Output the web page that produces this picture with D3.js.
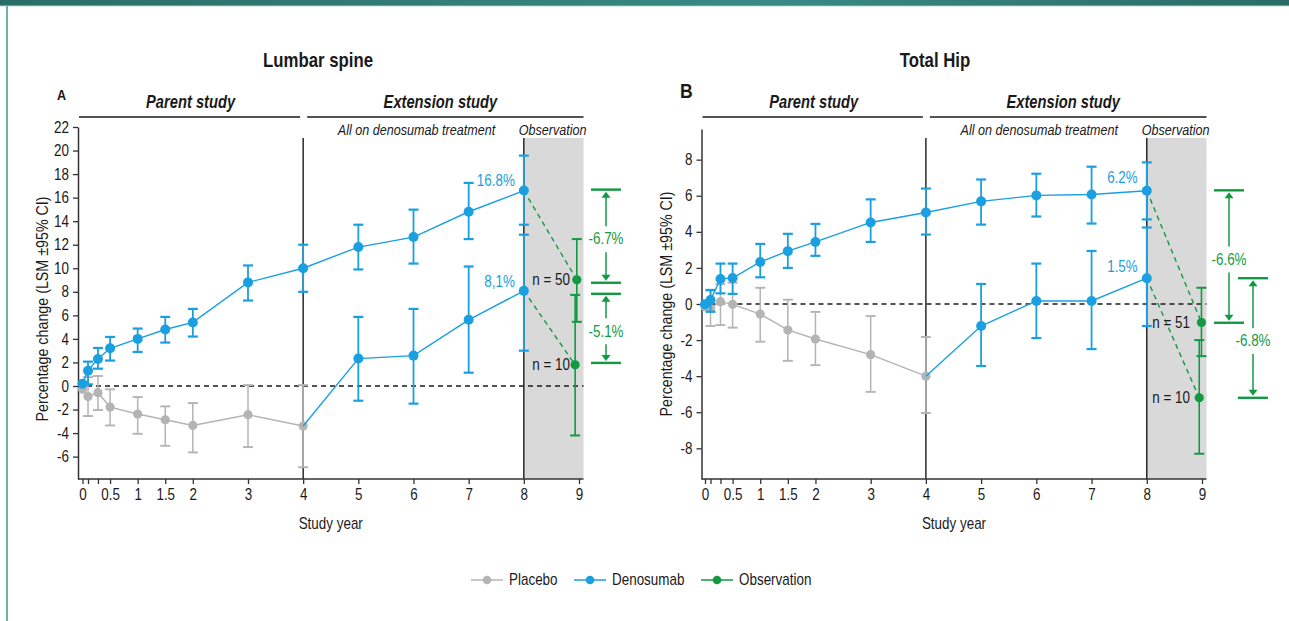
<!DOCTYPE html>
<html><head><meta charset="utf-8">
<script src="https://cdn.jsdelivr.net/npm/d3@7"></script>
<style>
html,body{margin:0;padding:0;background:#fff;}
text{font-family:'Liberation Sans',Arial,sans-serif;}
</style></head>
<body><svg id="c" width="1289" height="621"></svg>
<script>
// ---------- DATA ----------
const timesParent = [0, 0.1, 0.28, 0.5, 1, 1.5, 2, 3, 4];
const timesExt = [5, 6, 7, 8];
const timesCross = [4, 5, 6, 7, 8];
const xTickValues = [0, 0.1, 0.28, 0.5, 1, 1.5, 2, 3, 4, 5, 6, 7, 8, 9];
const xTickLabels = ["0", "", "", "0.5", "1", "1.5", "2", "3", "4", "5", "6", "7", "8", "9"];

// Panel A: Lumbar spine
const denoA    = [0.2, 1.3, 2.3, 3.2, 4.0, 4.8, 5.4, 8.8, 10.0, 11.8, 12.65, 14.8, 16.6];
const denoA_lo = [0.2, 0.14, 1.47, 2.16, 2.89, 3.69, 4.2, 7.26, 8.0, 9.9, 10.4, 12.48, 13.7];
const denoA_hi = [0.2, 2.07, 3.23, 4.17, 4.88, 5.87, 6.55, 10.24, 12.0, 13.7, 14.98, 17.25, 19.57];
const placA    = [-0.28, -0.9, -0.57, -1.79, -2.38, -2.87, -3.35, -2.44, -3.4];
const placA_lo = [-0.28, -2.55, -2.04, -3.35, -4.06, -5.08, -5.64, -5.19, -6.9];
const placA_hi = [-0.28, 0.75, 0.85, -0.28, -0.94, -1.73, -1.45, 0.08, 0.08];
const crossA    = [-3.4, 2.33, 2.58, 5.62, 8.08];
const crossA_lo = [null, -1.25, -1.5, 1.13, 3.0];
const crossA_hi = [null, 5.87, 6.55, 10.15, 12.85];
const obsA_t  = [8.96, 8.93];
const obsA    = [9.02, 1.8];
const obsA_lo = [5.45, -4.2];
const obsA_hi = [12.48, 7.74];
const obsA_n  = ["n = 50", "n = 10"];
const endLabelsA = ["16.8%", "8,1%"];
const bracketsA_from = [16.68, 7.83];
const bracketsA_to   = [8.77, 1.96];
const bracketsA_lab  = ["-6.7%", "-5.1%"];
const yTicksA = [-6, -4, -2, 0, 2, 4, 6, 8, 10, 12, 14, 16, 18, 20, 22];

// Panel B: Total Hip
const denoB    = [-0.02, 0.22, 1.39, 1.44, 2.33, 2.93, 3.44, 4.52, 5.07, 5.69, 6.02, 6.07, 6.28];
const denoB_lo = [-0.02, -0.43, 0.59, 0.56, 1.48, 2.0, 2.67, 3.44, 3.85, 4.4, 4.85, 4.46, 4.69];
const denoB_hi = [-0.02, 0.78, 2.24, 2.24, 3.33, 3.89, 4.44, 5.8, 6.4, 6.9, 7.22, 7.61, 7.85];
const placB    = [-0.15, -0.25, 0.13, -0.02, -0.56, -1.44, -1.94, -2.81, -4.0];
const placB_lo = [-0.15, -1.22, -1.17, -1.31, -2.09, -3.15, -3.39, -4.87, -6.04];
const placB_hi = [-0.15, 0.74, 1.1, 1.18, 0.9, 0.24, -0.44, -0.67, -1.83];
const crossB    = [-4.0, -1.22, 0.17, 0.17, 1.43];
const crossB_lo = [null, -3.44, -1.89, -2.5, -1.22];
const crossB_hi = [null, 1.11, 2.24, 2.94, 4.24];
const obsB_t  = [8.99, 8.95];
const obsB    = [-1.02, -5.2];
const obsB_lo = [-2.89, -8.3];
const obsB_hi = [0.9, -2.0];
const obsB_n  = ["n = 51", "n = 10"];
const endLabelsB = ["6.2%", "1.5%"];
const bracketsB_from = [6.3, 1.43];
const bracketsB_to   = [-1.04, -5.2];
const bracketsB_lab  = ["-6.6%", "-6.8%"];
const yTicksB = [-8, -6, -4, -2, 0, 2, 4, 6, 8];

const legendLabels = ["Placebo", "Denosumab", "Observation"];

// ---------- STYLE ----------
const BLUE = "#1a9fe0", GRAY = "#b4b4b4", GREEN = "#129a43", SHADE = "#d9d9d9", INK = "#1a1a1a";
const SX = 0.84; // horizontal condensing of text

const svg = d3.select("#c");
const defs = svg.append("defs");
const grad = defs.append("linearGradient").attr("id", "tb").attr("x1", "0").attr("x2", "1");
grad.append("stop").attr("offset", "0").attr("stop-color", "#2a6d66");
grad.append("stop").attr("offset", "0.6").attr("stop-color", "#3a8a85");
grad.append("stop").attr("offset", "1").attr("stop-color", "#2a6b65");
svg.append("rect").attr("x", 0).attr("y", 0).attr("width", 1289).attr("height", 5).attr("fill", "url(#tb)");
svg.append("rect").attr("x", 0).attr("y", 5).attr("width", 1289).attr("height", 1.2).attr("fill", "#5ea59c");
svg.append("rect").attr("x", 6).attr("y", 5).attr("width", 2).attr("height", 616).attr("fill", "#6fb1a8");

function txt(g, x, y, s, o) {
  o = o || {};
  const t = g.append("text")
    .attr("transform", `translate(${x},${y})${o.rotate ? " rotate(" + o.rotate + ")" : ""} scale(${SX},1)`)
    .attr("font-size", o.size || 16)
    .attr("fill", o.fill || INK)
    .attr("text-anchor", o.anchor || "start")
    .text(s);
  if (o.weight) t.attr("font-weight", o.weight);
  if (o.style) t.attr("font-style", o.style);
  if (o.middle) t.attr("dominant-baseline", "middle");
  return t;
}

function panel(cfg) {
  const g = svg.append("g");
  const x = d3.scaleLinear().domain([0, 9]).range(cfg.xRange);
  const y = d3.scaleLinear().domain(cfg.yDomain).range([479, cfg.yTop]);
  const axisY = 479, left = cfg.axisX, grayEnd = x(9) + 4.5, topV = 138;

  g.append("rect").attr("x", x(8)).attr("y", topV).attr("width", grayEnd - x(8)).attr("height", axisY - topV).attr("fill", SHADE);

  g.append("line").attr("x1", left).attr("x2", grayEnd).attr("y1", y(0)).attr("y2", y(0))
    .attr("stroke", INK).attr("stroke-width", 1.4).attr("stroke-dasharray", "5,4");

  [4, 8].forEach(t => g.append("line").attr("x1", x(t)).attr("x2", x(t)).attr("y1", topV).attr("y2", axisY)
    .attr("stroke", INK).attr("stroke-width", 1.4));

  const ya = g.append("g").attr("transform", `translate(${left},0)`)
    .call(d3.axisLeft(y).tickValues(cfg.yTicks).tickFormat(d => String(d)).tickSize(5).tickSizeOuter(0).tickPadding(4));
  ya.select(".domain").attr("stroke", "#333").attr("stroke-width", 1.5);
  ya.selectAll(".tick line").attr("stroke", "#333").attr("stroke-width", 1.3);
  ya.selectAll(".tick text").attr("font-size", 16).attr("fill", INK).attr("x", -9 / SX)
    .attr("transform", `scale(${SX},1)`).style("font-family", "'Liberation Sans',Arial,sans-serif");

  const xa = g.append("g").attr("transform", `translate(0,${axisY})`)
    .call(d3.axisBottom(x).tickValues(xTickValues).tickFormat((d, i) => xTickLabels[i]).tickSize(5).tickSizeOuter(0).tickPadding(5));
  xa.select(".domain").remove();
  xa.selectAll(".tick line").attr("stroke", "#333").attr("stroke-width", 1.3);
  xa.selectAll(".tick text").attr("font-size", 16).attr("fill", INK)
    .attr("transform", `scale(${SX},1)`).style("font-family", "'Liberation Sans',Arial,sans-serif");
  g.append("line").attr("x1", left).attr("x2", grayEnd).attr("y1", axisY).attr("y2", axisY)
    .attr("stroke", "#333").attr("stroke-width", 1.5);

  // headers
  const midP = (left + x(4)) / 2, midE = (x(4) + grayEnd) / 2;
  txt(g, cfg.titleX, 67, cfg.title, { anchor: "middle", size: 20, weight: "bold" });
  txt(g, cfg.letterX, cfg.letterY, cfg.letter, { size: cfg.letterSize, weight: "bold" });
  txt(g, midP, 108, "Parent study", { anchor: "middle", size: 17.5, weight: "bold", style: "italic" });
  txt(g, midE - 3, 108, "Extension study", { anchor: "middle", size: 17.5, weight: "bold", style: "italic" });
  g.append("line").attr("x1", left + 1).attr("x2", x(4) - 3).attr("y1", 117).attr("y2", 117).attr("stroke", INK).attr("stroke-width", 1.3);
  g.append("line").attr("x1", x(4) + 4).attr("x2", grayEnd).attr("y1", 117).attr("y2", 117).attr("stroke", INK).attr("stroke-width", 1.3);
  txt(g, (x(4) + x(8)) / 2 + 3, 135, "All on denosumab treatment", { anchor: "middle", size: 15, style: "italic" });
  txt(g, (x(8) + grayEnd) / 2 - 1, 135, "Observation", { anchor: "middle", size: 15, style: "italic" });

  // axis titles
  txt(g, left - 30, cfg.yLabelY, "Percentage change (LSM \u00B195% CI)", { anchor: "middle", size: 17, rotate: -90 });
  txt(g, (left + grayEnd) / 2, 529, "Study year", { anchor: "middle", size: 16 });

  function errBars(ts, lo, hi, color, w) {
    ts.forEach((t, i) => {
      if (lo[i] == null || lo[i] === hi[i]) return;
      const cx = x(t);
      g.append("line").attr("x1", cx).attr("x2", cx).attr("y1", y(lo[i])).attr("y2", y(hi[i])).attr("stroke", color).attr("stroke-width", w);
      [lo[i], hi[i]].forEach(v => g.append("line").attr("x1", cx - 5).attr("x2", cx + 5).attr("y1", y(v)).attr("y2", y(v))
        .attr("stroke", color).attr("stroke-width", w + 0.4));
    });
  }
  const line = d3.line().x(d => x(d[0])).y(d => y(d[1]));
  const timesAll = timesParent.concat(timesExt);

  // placebo
  errBars(timesParent, cfg.plac_lo, cfg.plac_hi, GRAY, 1.5);
  g.append("path").attr("d", line(timesParent.map((t, i) => [t, cfg.plac[i]]))).attr("fill", "none").attr("stroke", GRAY).attr("stroke-width", 1.4);
  g.selectAll(null).data(timesParent).enter().append("circle").attr("cx", d => x(d)).attr("cy", (d, i) => y(cfg.plac[i])).attr("r", 4.6).attr("fill", GRAY);

  // green dashed connectors
  [cfg.deno[cfg.deno.length - 1], cfg.cross[cfg.cross.length - 1]].forEach((v, i) => {
    g.append("line").attr("x1", x(8)).attr("y1", y(v)).attr("x2", x(cfg.obs_t[i])).attr("y2", y(cfg.obs[i]))
      .attr("stroke", GREEN).attr("stroke-width", 1.4).attr("stroke-dasharray", "5,4");
  });

  // crossover group
  errBars(timesCross, cfg.cross_lo, cfg.cross_hi, BLUE, 1.8);
  g.append("path").attr("d", line(timesCross.map((t, i) => [t, cfg.cross[i]]))).attr("fill", "none").attr("stroke", BLUE).attr("stroke-width", 1.4);
  g.selectAll(null).data(timesCross.slice(1)).enter().append("circle").attr("cx", d => x(d)).attr("cy", (d, i) => y(cfg.cross[i + 1])).attr("r", 5).attr("fill", BLUE);

  // denosumab
  errBars(timesAll, cfg.deno_lo, cfg.deno_hi, BLUE, 1.8);
  g.append("path").attr("d", line(timesAll.map((t, i) => [t, cfg.deno[i]]))).attr("fill", "none").attr("stroke", BLUE).attr("stroke-width", 1.4);
  g.selectAll(null).data(timesAll).enter().append("circle").attr("cx", d => x(d)).attr("cy", (d, i) => y(cfg.deno[i])).attr("r", 5).attr("fill", BLUE);

  // observation
  errBars(cfg.obs_t, cfg.obs_lo, cfg.obs_hi, GREEN, 1.6);
  g.selectAll(null).data(cfg.obs_t).enter().append("circle").attr("cx", d => x(d)).attr("cy", (d, i) => y(cfg.obs[i])).attr("r", 4.6).attr("fill", GREEN);

  // end labels
  [cfg.deno[cfg.deno.length - 1], cfg.cross[cfg.cross.length - 1]].forEach((v, i) => {
    txt(g, x(8) - 9, y(v) - cfg.endDy[i], cfg.endLabels[i], { anchor: "end", size: 16, fill: BLUE, middle: true });
  });
  cfg.obs.forEach((v, i) => {
    txt(g, x(9) - cfg.nDx, y(v) + 1, cfg.obs_n[i], { anchor: "end", size: 16, middle: true });
  });

  // brackets
  cfg.brFrom.forEach((v0, i) => {
    const bx = x(9) + cfg.brDx[i];
    const y0 = y(v0), y1 = y(cfg.brTo[i]), ym = (y0 + y1) / 2 + 3;
    [y0, y1].forEach(yy => g.append("line").attr("x1", bx - 15).attr("x2", bx + 15).attr("y1", yy).attr("y2", yy)
      .attr("stroke", GREEN).attr("stroke-width", 2.4));
    g.append("line").attr("x1", bx).attr("x2", bx).attr("y1", y0 + 6).attr("y2", ym - 13).attr("stroke", GREEN).attr("stroke-width", 1.5);
    g.append("line").attr("x1", bx).attr("x2", bx).attr("y1", ym + 13).attr("y2", y1 - 6).attr("stroke", GREEN).attr("stroke-width", 1.5);
    g.append("path").attr("d", `M${bx},${y0 + 2}L${bx - 4.5},${y0 + 8}L${bx + 4.5},${y0 + 8}Z`).attr("fill", GREEN);
    g.append("path").attr("d", `M${bx},${y1 - 2}L${bx - 4.5},${y1 - 8}L${bx + 4.5},${y1 - 8}Z`).attr("fill", GREEN);
    txt(g, bx, ym + 1, cfg.brLab[i], { anchor: "middle", size: 16, fill: GREEN, middle: true });
  });
}

panel({
  xRange: [82.5, 579], yDomain: [-7.9, 22], yTop: 127, yTicks: yTicksA, axisX: 78,
  title: "Lumbar spine", titleX: 318, letter: "A", letterX: 57, letterY: 100, letterSize: 15, yLabelY: 309,
  deno: denoA, deno_lo: denoA_lo, deno_hi: denoA_hi, plac: placA, plac_lo: placA_lo, plac_hi: placA_hi,
  cross: crossA, cross_lo: crossA_lo, cross_hi: crossA_hi, obs_t: obsA_t, obs: obsA, obs_lo: obsA_lo, obs_hi: obsA_hi,
  obs_n: obsA_n, endLabels: endLabelsA, endDy: [9, 8], nDx: 9,
  brFrom: bracketsA_from, brTo: bracketsA_to, brLab: bracketsA_lab, brDx: [27, 27]
});
panel({
  xRange: [705, 1202], yDomain: [-9.7, 9.7], yTop: 129, yTicks: yTicksB, axisX: 701.5,
  title: "Total Hip", titleX: 935, letter: "B", letterX: 680, letterY: 98, letterSize: 21, yLabelY: 304,
  deno: denoB, deno_lo: denoB_lo, deno_hi: denoB_hi, plac: placB, plac_lo: placB_lo, plac_hi: placB_hi,
  cross: crossB, cross_lo: crossB_lo, cross_hi: crossB_hi, obs_t: obsB_t, obs: obsB, obs_lo: obsB_lo, obs_hi: obsB_hi,
  obs_n: obsB_n, endLabels: endLabelsB, endDy: [12, 10], nDx: 12,
  brFrom: bracketsB_from, brTo: bracketsB_to, brLab: bracketsB_lab, brDx: [27, 51]
});

// legend
const legColors = [GRAY, BLUE, GREEN];
const legX = [471, 574, 701];
const lg = svg.append("g");
legendLabels.forEach((lab, i) => {
  lg.append("line").attr("x1", legX[i]).attr("x2", legX[i] + 32).attr("y1", 580).attr("y2", 580).attr("stroke", legColors[i]).attr("stroke-width", 1.5);
  lg.append("circle").attr("cx", legX[i] + 16).attr("cy", 580).attr("r", 4.3).attr("fill", legColors[i]);
  txt(lg, legX[i] + 38, 581, lab, { size: 16, middle: true });
});
</script></body></html>
